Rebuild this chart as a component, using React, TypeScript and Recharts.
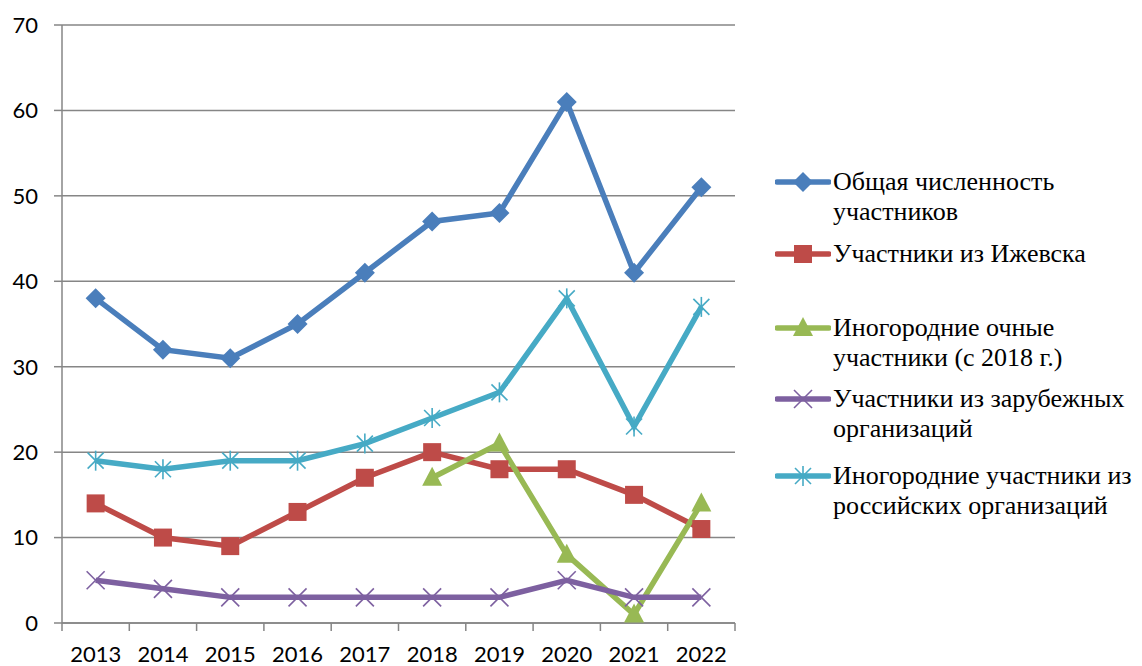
import React from 'react';
import { LineChart, Line, XAxis, YAxis, CartesianGrid } from 'recharts';

const years = ['2013', '2014', '2015', '2016', '2017', '2018', '2019', '2020', '2021', '2022'];
const total = [38, 32, 31, 35, 41, 47, 48, 61, 41, 51];
const izhevsk = [14, 10, 9, 13, 17, 20, 18, 18, 15, 11];
const ochnye = [null, null, null, null, null, 17, 21, 8, 1, 14];
const foreign = [5, 4, 3, 3, 3, 3, 3, 5, 3, 3];
const russian = [19, 18, 19, 19, 21, 24, 27, 38, 23, 37];
const yTicks = [0, 10, 20, 30, 40, 50, 60, 70];

const names = [
  ['Общая численность', 'участников'],
  ['Участники из Ижевска'],
  ['Иногородние очные', 'участники (с 2018 г.)'],
  ['Участники из зарубежных', 'организаций'],
  ['Иногородние участники из', 'российских организаций'],
];
const keys = ['total', 'izhevsk', 'ochnye', 'foreign', 'russian'];
const colors = ['#4A7EBB', '#BE4B48', '#98B954', '#7D60A0', '#46AAC5'];
const shapes = ['diamond', 'square', 'triangle', 'x', 'star'];

const data = years.map((y, i) => ({
  year: y,
  total: total[i],
  izhevsk: izhevsk[i],
  ochnye: ochnye[i],
  foreign: foreign[i],
  russian: russian[i],
}));

const GRID = '#868686';
const TICK_SIZE = 8;
const TICK_MARGIN = 15;

function marker(shape: string, color: string, cx: number, cy: number, key?: any) {
  const s = 10;
  if (shape === 'diamond') {
    return <polygon key={key} points={`${cx},${cy - s} ${cx + s},${cy} ${cx},${cy + s} ${cx - s},${cy}`} fill={color} />;
  }
  if (shape === 'square') {
    return <rect key={key} x={cx - 9} y={cy - 9} width={18} height={18} fill={color} />;
  }
  if (shape === 'triangle') {
    return <polygon key={key} points={`${cx},${cy - 11} ${cx + 10},${cy + 8} ${cx - 10},${cy + 8}`} fill={color} />;
  }
  if (shape === 'x') {
    return (
      <g key={key} stroke={color} strokeWidth={1.6}>
        <line x1={cx - 9} y1={cy - 9} x2={cx + 9} y2={cy + 9} />
        <line x1={cx - 9} y1={cy + 9} x2={cx + 9} y2={cy - 9} />
      </g>
    );
  }
  return (
    <g key={key} stroke={color} strokeWidth={1.6}>
      <line x1={cx - 8} y1={cy - 8} x2={cx + 8} y2={cy + 8} />
      <line x1={cx - 8} y1={cy + 8} x2={cx + 8} y2={cy - 8} />
      <line x1={cx} y1={cy - 10} x2={cx} y2={cy + 10} />
    </g>
  );
}

const makeDot = (shape: string, color: string) => (props: any) => {
  const { cx, cy, value, index } = props;
  if (value == null || cx == null || cy == null) return <g key={`e${index}`} />;
  return marker(shape, color, cx, cy, `d${index}`);
};

const XTick = (props: any) => {
  const { x, y, payload, index, visibleTicksCount } = props;
  const half = payload && payload.offset ? payload.offset : 0;
  const axisY = y - TICK_SIZE - TICK_MARGIN;
  const isLast = index === (visibleTicksCount ?? years.length) - 1;
  return (
    <g>
      <line x1={x - half} y1={axisY} x2={x - half} y2={axisY + TICK_SIZE} stroke={GRID} strokeWidth={1.5} />
      {isLast && (
        <line x1={x + half} y1={axisY} x2={x + half} y2={axisY + TICK_SIZE} stroke={GRID} strokeWidth={1.5} />
      )}
      <text x={x} y={y} dy="0.71em" textAnchor="middle" fill="#000" fontSize={22} fontFamily="Lato, sans-serif">
        {payload.value}
      </text>
    </g>
  );
};

const legendTops = [182, 254, 328, 399, 476];

export default function App() {
  return (
    <div style={{ position: 'absolute', left: 0, top: 0, width: 1142, height: 666, background: '#fff' }}>
      <LineChart
        width={1142}
        height={666}
        data={data}
        margin={{ top: 25, right: 407, bottom: 0, left: 0 }}
      >
        <CartesianGrid horizontal vertical={false} stroke={GRID} strokeWidth={1.5} />
        <XAxis
          dataKey="year"
          scale="band"
          height={43}
          axisLine={{ stroke: GRID, strokeWidth: 1.5 }}
          tickLine={false}
          tickSize={TICK_SIZE}
          tickMargin={TICK_MARGIN}
          interval={0}
          tick={XTick}
        />
        <YAxis
          width={62}
          domain={[0, 70]}
          ticks={yTicks}
          interval={0}
          tickSize={8}
          tickMargin={16}
          axisLine={{ stroke: GRID, strokeWidth: 1.5 }}
          tickLine={{ stroke: GRID, strokeWidth: 1.5 }}
          tick={{ fill: '#000', fontSize: 22, fontFamily: 'Lato, sans-serif' }}
        />
        {keys.map((k, i) => (
          <Line
            key={k}
            dataKey={k}
            type="linear"
            stroke={colors[i]}
            strokeWidth={5.5}
            isAnimationActive={false}
            connectNulls={false}
            dot={makeDot(shapes[i], colors[i])}
            activeDot={false}
          />
        ))}
      </LineChart>
      {names.map((lines, i) => (
        <div
          key={i}
          style={{
            position: 'absolute',
            left: 775,
            top: legendTops[i] - 15,
            display: 'flex',
            alignItems: 'flex-start',
            fontFamily: '"Liberation Serif", "Times New Roman", serif',
            fontSize: 26,
            lineHeight: '30px',
            color: '#000',
            whiteSpace: 'nowrap',
          }}
        >
          <svg width={56} height={30} style={{ flex: 'none' }}>
            <line x1={2} y1={15} x2={54} y2={15} stroke={colors[i]} strokeWidth={5.5} strokeLinecap="round" />
            {marker(shapes[i], colors[i], 28, 15)}
          </svg>
          <div style={{ marginLeft: 2 }}>
            {lines.map((l, j) => (
              <div key={j}>{l}</div>
            ))}
          </div>
        </div>
      ))}
    </div>
  );
}
